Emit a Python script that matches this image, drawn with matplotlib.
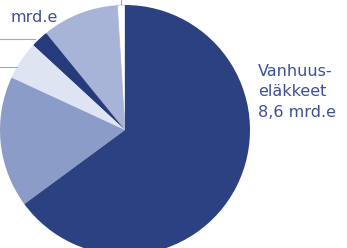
import matplotlib
matplotlib.use('Agg')
import matplotlib.pyplot as plt

# Pension expenditure shares (mrd. euro)
shares = [0.13, 1.31, 0.30, 0.66, 2.25, 8.6]
colors = ['#ffffff', '#a7b3d7', '#263b7c', '#dfe4f2', '#8c9cc8', '#2c4181']
label_main = 'Vanhuus-\neläkkeet\n8,6 mrd.e'
label_cut = 'mrd.e'

text_color = '#3d4f97'

fig = plt.figure(figsize=(3.47, 2.48), dpi=100)
ax = fig.add_axes([0, 0, 1, 1])

# pie in pixel-like coordinates, centre partly outside the picture
wedges, _ = ax.pie(shares, colors=colors, startangle=90, counterclock=True,
                   center=(125, 118), radius=125,
                   wedgeprops=dict(linewidth=0))
wedges[0].set_edgecolor('#b8c0d8')
wedges[0].set_linewidth(0.6)

ax.set_xlim(0, 347)
ax.set_ylim(0, 248)
ax.set_aspect('equal')
ax.axis('off')

ax.text(258, 184, label_main, color=text_color, fontsize=11.5,
        family='DejaVu Sans', va='top', ha='left', linespacing=1.45)
ax.text(11, 230, label_cut, color=text_color, fontsize=11.5,
        family='DejaVu Sans', va='center', ha='left')

# leader lines coming from labels outside the crop
ax.plot([0, 35], [209, 209], color='#9aa6cc', lw=0.8)
ax.plot([0, 17], [181, 181], color='#9aa6cc', lw=0.8)
ax.plot([121, 121], [244, 248], color='#9aa6cc', lw=0.8)

fig.savefig('out.png', dpi=100)
